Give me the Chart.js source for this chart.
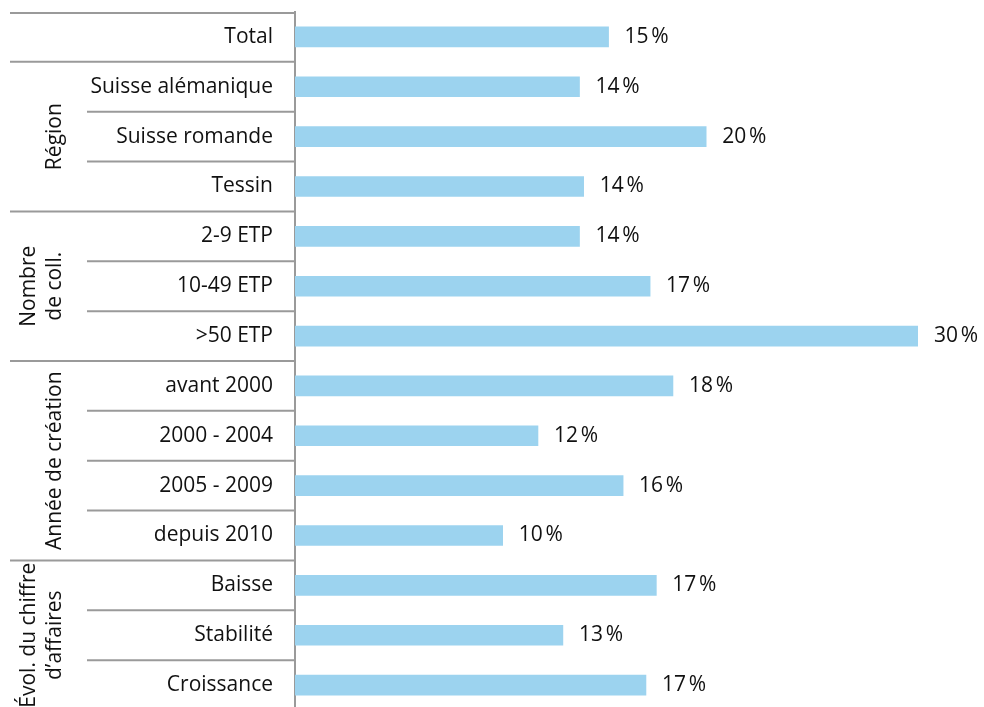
<!DOCTYPE html>
<html>
<head>
<meta charset="utf-8">
<script src="https://cdn.jsdelivr.net/npm/chart.js@4"></script>
<style>
  html, body { margin: 0; padding: 0; background: #fff; overflow: hidden; }
  #wrap { width: 984px; height: 710px; position: relative; }
</style>
</head>
<body>
<div id="wrap"><canvas id="chart"></canvas></div>
<script>
// Row labels, top to bottom
const categories = [
  'Total',
  'Suisse alémanique', 'Suisse romande', 'Tessin',
  '2-9 ETP', '10-49 ETP', '>50 ETP',
  'avant 2000', '2000 - 2004', '2005 - 2009', 'depuis 2010',
  'Baisse', 'Stabilité', 'Croissance'
];

// Bar lengths (percent)
const values = [15.1, 13.7, 19.8, 13.9, 13.7, 17.1, 30, 18.2, 11.7, 15.8, 10.0, 17.4, 12.9, 16.9];

// Printed labels next to the bars
const valueLabels = ['15', '14', '20', '14', '14', '17', '30', '18', '12', '16', '10', '17', '13', '17'];

// Groups: label lines, first row index, last row index
const groupNames = [
  ['Région'],
  ['Nombre', 'de coll.'],
  ['Année de création'],
  ['Évol. du chiffre', 'd\u2019affaires']
];
const groupStart = [1, 4, 7, 11];
const groupEnd = [3, 6, 10, 13];

const FONT = '"Open Sans", sans-serif';
const FSIZE = 21;
const TEXT = '#111';
const LINE = '#9a9a9a';

// left-side table: row labels, separator lines and rotated group titles
const tablePlugin = {
  id: 'tablePlugin',
  afterDraw(chart) {
    const ctx = chart.ctx;
    const y = chart.scales.y;
    const area = chart.chartArea;
    const mid = i => (y.getPixelForValue(i) + y.getPixelForValue(i + 1)) / 2;

    ctx.save();
    ctx.strokeStyle = LINE;
    ctx.lineWidth = 2;
    const hline = (x0, yy) => {
      ctx.beginPath();
      ctx.moveTo(x0, yy);
      ctx.lineTo(area.left, yy);
      ctx.stroke();
    };
    hline(10, area.top + 1);
    for (let i = 0; i < categories.length - 1; i++) {
      const full = groupStart.includes(i + 1);
      hline(full ? 10 : 87, mid(i));
    }

    ctx.fillStyle = TEXT;
    ctx.font = FSIZE + 'px ' + FONT;
    ctx.textBaseline = 'middle';
    ctx.textAlign = 'right';
    categories.forEach((c, i) => ctx.fillText(c, area.left - 22, y.getPixelForValue(i)));

    ctx.textAlign = 'center';
    groupNames.forEach((lines, g) => {
      const cy = (y.getPixelForValue(groupStart[g]) + y.getPixelForValue(groupEnd[g])) / 2;
      const lh = 26;
      const cx = lines.length > 1 ? 29 : 55;
      ctx.save();
      ctx.translate(cx, cy);
      ctx.rotate(-Math.PI / 2);
      lines.forEach((t, k) => ctx.fillText(t, 0, k * lh));
      ctx.restore();
    });
    ctx.restore();
  }
};

// percent labels after each bar
const valuePlugin = {
  id: 'valuePlugin',
  afterDatasetsDraw(chart) {
    const ctx = chart.ctx;
    const meta = chart.getDatasetMeta(0);
    ctx.save();
    ctx.fillStyle = TEXT;
    ctx.font = FSIZE + 'px ' + FONT;
    ctx.textAlign = 'left';
    ctx.textBaseline = 'middle';
    meta.data.forEach((bar, i) => {
      ctx.fillText(valueLabels[i] + '\u202f%', bar.x + 16, bar.y);
    });
    ctx.restore();
  }
};

new Chart(document.getElementById('chart'), {
  type: 'bar',
  data: {
    labels: categories,
    datasets: [{
      data: values,
      backgroundColor: '#9cd3ef',
      barThickness: 20,
      borderWidth: 0
    }]
  },
  options: {
    indexAxis: 'y',
    responsive: true,
    maintainAspectRatio: false,
    animation: false,
    layout: { padding: { left: 10, right: 66, top: 12, bottom: 0 } },
    plugins: {
      legend: { display: false },
      tooltip: { enabled: false }
    },
    scales: {
      x: {
        display: false,
        min: 0,
        max: 30
      },
      y: {
        afterFit(scale) { scale.width = 285; },
        grid: { display: false, drawTicks: false },
        border: { display: true, color: LINE, width: 2 },
        ticks: { display: false }
      }
    }
  },
  plugins: [tablePlugin, valuePlugin]
});
</script>
</body>
</html>
